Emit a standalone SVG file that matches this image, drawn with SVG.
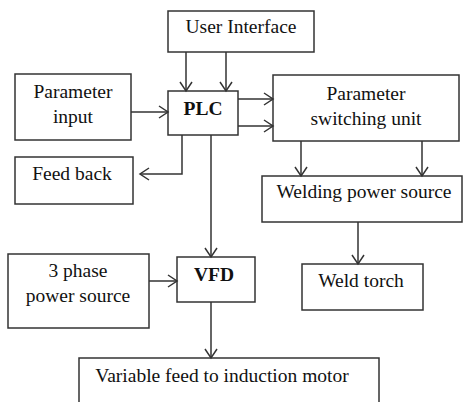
<svg xmlns="http://www.w3.org/2000/svg" width="465" height="402" viewBox="0 0 465 402">
<defs>
<marker id="arr" markerUnits="userSpaceOnUse" markerWidth="12" markerHeight="14" refX="10" refY="6" orient="auto" overflow="visible">
<path d="M1,0 L10,6 L1,12" fill="none" stroke="#333" stroke-width="1.5"/>
</marker>
<style>
.box{fill:#fff;stroke:#333;stroke-width:1.5}
.t{font-family:'Liberation Serif','Times New Roman',serif;font-size:19.5px;fill:#111;text-anchor:middle}
.b{font-weight:bold}
.c{fill:none;stroke:#333;stroke-width:1.5;marker-end:url(#arr)}
</style>
</defs>
<rect width="465" height="402" fill="#fff"/>
<g id="user-interface"><rect class="box" x="168" y="11" width="146" height="41"/><text class="t" x="241" y="33">User Interface</text></g>
<g id="parameter-input"><rect class="box" x="15" y="74" width="116" height="66"/><text class="t" x="73" y="98">Parameter</text><text class="t" x="73" y="123">input</text></g>
<g id="plc"><rect class="box" x="168" y="91" width="70" height="44"/><text class="t b" x="203" y="115">PLC</text></g>
<g id="parameter-switching-unit"><rect class="box" x="273" y="75" width="186" height="66"/><text class="t" x="366" y="100">Parameter</text><text class="t" x="366" y="125">switching unit</text></g>
<g id="feed-back"><rect class="box" x="15" y="157" width="118" height="47"/><text class="t" x="72" y="180">Feed back</text></g>
<g id="welding-power-source"><rect class="box" x="262" y="176" width="200" height="46"/><text class="t" x="364" y="198">Welding power source</text></g>
<g id="weld-torch"><rect class="box" x="302" y="264" width="121" height="46"/><text class="t" x="361" y="287">Weld torch</text></g>
<g id="three-phase"><rect class="box" x="8" y="254" width="141" height="74"/><text class="t" x="78" y="277">3 phase</text><text class="t" x="78" y="302">power source</text></g>
<g id="vfd"><rect class="box" x="177" y="257" width="78" height="45"/><text class="t b" x="214" y="281">VFD</text></g>
<g id="variable-feed"><rect class="box" x="79" y="358" width="300" height="50"/><text class="t" x="222" y="382">Variable feed to induction motor</text></g>
<g id="connectors">
<path class="c" d="M186,52 V91"/>
<path class="c" d="M226,52 V91"/>
<path class="c" d="M131,112 H168"/>
<path class="c" d="M238,99 H273"/>
<path class="c" d="M238,126 H273"/>
<path class="c" d="M182,135 V174 H140"/>
<path class="c" d="M211,135 V257"/>
<path class="c" d="M301,141 V176"/>
<path class="c" d="M422,141 V176"/>
<path class="c" d="M358,222 V264"/>
<path class="c" d="M149,281 H177"/>
<path class="c" d="M211,302 V358"/>
</g>
</svg>
